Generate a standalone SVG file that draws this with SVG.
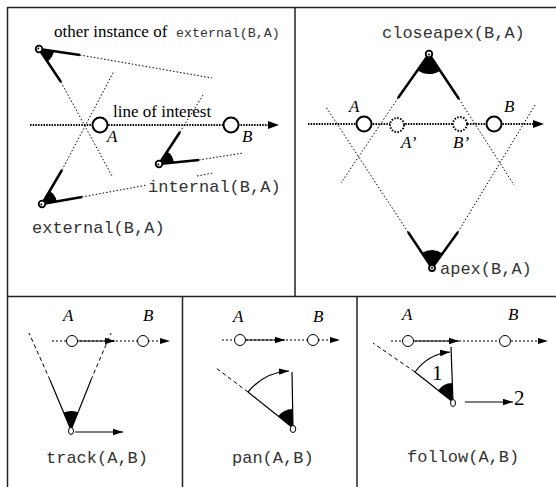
<svg xmlns="http://www.w3.org/2000/svg" width="556" height="487" viewBox="0 0 556 487">
<defs>
<style>
.frame{fill:none;stroke:#222;stroke-width:1.5}
.loi{fill:none;stroke:#000;stroke-width:2;stroke-dasharray:1.5 1.2}
.dot{fill:none;stroke:#000;stroke-width:1;stroke-dasharray:1.5 2}
.thick{fill:none;stroke:#000;stroke-width:2.5}
.thin{fill:none;stroke:#000;stroke-width:1.2}
.dash{fill:none;stroke:#000;stroke-width:1;stroke-dasharray:4 3}
.dot2{fill:none;stroke:#000;stroke-width:1;stroke-dasharray:2 2}
.circ{fill:#fff;stroke:#000;stroke-width:2}
.circd{fill:#fff;stroke:#000;stroke-width:2;stroke-dasharray:1.5 1.5}
.circs{fill:#fff;stroke:#000;stroke-width:1}
.wedge{fill:#000}
.cam{fill:#fff;stroke:#000;stroke-width:1.8}
.camc{fill:#000}
.serif{font-family:"Liberation Serif","Times New Roman",serif;font-size:17px;fill:#000}
.it{font-family:"Liberation Serif","Times New Roman",serif;font-style:italic;font-size:17px;fill:#000}
.mono{font-family:"Liberation Mono","Courier New",monospace;font-size:17px;fill:#333}
.num{font-family:"Liberation Serif","Times New Roman",serif;font-size:21px;fill:#000}
</style>
<marker id="ah" markerWidth="11" markerHeight="8" refX="10" refY="4" orient="auto" markerUnits="userSpaceOnUse">
<path d="M0,0.8 L10,4 L0,7.2 Z" fill="#000"/>
</marker>
</defs>

<g id="frames">
<line class="frame" x1="7" y1="7.5" x2="556" y2="7.5"/>
<line class="frame" x1="7.5" y1="7" x2="7.5" y2="487"/>
<line class="frame" x1="295" y1="7" x2="295" y2="297"/>
<line class="frame" x1="7" y1="296.5" x2="556" y2="296.5"/>
<line class="frame" x1="182.5" y1="296" x2="182.5" y2="487"/>
<line class="frame" x1="357" y1="296" x2="357" y2="487"/>
</g>

<g id="connectors">
<!-- top-left panel -->
<line class="loi" x1="30" y1="125" x2="269" y2="125"/>
<polygon points="268,121 279,125 268,129" fill="#000"/>
<line class="dot" x1="80" y1="55" x2="212" y2="78"/>
<line class="dot" x1="61" y1="82" x2="112" y2="176"/>
<line class="dot" x1="62" y1="170" x2="114" y2="71"/>
<line class="dot" x1="82" y1="197" x2="147" y2="185"/>
<line class="dot" x1="197" y1="176" x2="213" y2="173"/>
<line class="dot" x1="199" y1="160" x2="243" y2="153"/>
<line class="dot" x1="180" y1="132" x2="203" y2="95"/>
<line class="thick" x1="39" y1="49" x2="80" y2="55"/>
<line class="thick" x1="39" y1="49" x2="61" y2="82"/>
<line class="thick" x1="42" y1="204" x2="82" y2="197"/>
<line class="thick" x1="42" y1="204" x2="62" y2="170"/>
<line class="thick" x1="159" y1="164" x2="199" y2="160"/>
<line class="thick" x1="159" y1="164" x2="180" y2="132"/>

<!-- top-right panel -->
<line class="loi" x1="308" y1="124" x2="534" y2="124"/>
<polygon points="533,120 544,124 533,128" fill="#000"/>
<line class="dot" x1="398" y1="98" x2="341" y2="183"/>
<line class="dot" x1="459" y1="99" x2="514" y2="185"/>
<line class="dot" x1="408" y1="232" x2="326" y2="107"/>
<line class="dot" x1="458" y1="232" x2="535" y2="105"/>
<line class="thick" x1="429" y1="54" x2="398" y2="98"/>
<line class="thick" x1="429" y1="54" x2="459" y2="99"/>
<line class="thick" x1="432" y1="268" x2="408" y2="232"/>
<line class="thick" x1="432" y1="268" x2="458" y2="232"/>

<!-- track panel -->
<line class="dot2" x1="52" y1="341" x2="162" y2="341"/>
<polygon points="160,338 170,341 160,344" fill="#000"/>
<line class="thin" x1="78" y1="341" x2="115" y2="341" marker-end="url(#ah)"/>
<line class="thin" x1="71" y1="430" x2="50" y2="380"/>
<line class="dash" x1="50" y1="380" x2="29" y2="333"/>
<line class="thin" x1="71" y1="430" x2="91" y2="380"/>
<line class="dash" x1="91" y1="380" x2="111" y2="333"/>
<line class="thin" x1="75" y1="432" x2="123" y2="432" marker-end="url(#ah)"/>

<!-- pan panel -->
<line class="dot2" x1="222" y1="340" x2="332" y2="340"/>
<polygon points="330,337 340,340 330,343" fill="#000"/>
<line class="thin" x1="246" y1="340" x2="285" y2="340" marker-end="url(#ah)"/>
<line class="thin" x1="293" y1="428" x2="292" y2="372"/>
<line class="thin" x1="293" y1="428" x2="248" y2="392"/>
<line class="dash" x1="248" y1="392" x2="216" y2="368"/>
<path class="thin" d="M248,392 A57,57 0 0 1 289,371" marker-end="url(#ah)"/>

<!-- follow panel -->
<line class="dot2" x1="391" y1="341" x2="540" y2="341"/>
<polygon points="538,338 548,341 538,344" fill="#000"/>
<line class="thin" x1="414" y1="341" x2="459" y2="341" marker-end="url(#ah)"/>
<line class="thin" x1="453" y1="402" x2="451" y2="347"/>
<line class="thin" x1="453" y1="402" x2="415" y2="372"/>
<line class="dash" x1="415" y1="372" x2="373" y2="343"/>
<path class="thin" d="M415,372 A49,49 0 0 1 450,352" marker-end="url(#ah)"/>
<line class="thin" x1="465" y1="402" x2="513" y2="402" marker-end="url(#ah)"/>
</g>

<g id="node-A-top-left">
<circle class="circ" cx="100" cy="125" r="7.5"/>
<text class="it" x="107" y="142">A</text>
</g>
<g id="node-B-top-left">
<circle class="circ" cx="231" cy="125" r="7.5"/>
<text class="it" x="242" y="142">B</text>
</g>
<g id="label-line-of-interest">
<text class="serif" x="113" y="117">line of interest</text>
</g>
<g id="camera-other-instance">
<path class="wedge" d="M39,49 L53.85,51.18 A15,15 0 0 1 47.31,61.48 Z"/>
<circle class="cam" cx="39" cy="49" r="3.3"/>
<circle class="camc" cx="38.3" cy="48.5" r="1"/>
<text class="serif" x="54" y="37">other instance of <tspan class="mono" style="font-size:13.3px" x="176">external(B,A)</tspan></text>
</g>
<g id="camera-external">
<path class="wedge" d="M42,204 L56.78,201.42 A15,15 0 0 0 49.61,191.07 Z"/>
<circle class="cam" cx="42" cy="204" r="3.3"/>
<circle class="camc" cx="41.3" cy="204.5" r="1"/>
<text class="mono" x="32" y="233">external(B,A)</text>
</g>
<g id="camera-internal">
<path class="wedge" d="M159,164 L173.93,162.51 A15,15 0 0 0 167.22,151.46 Z"/>
<circle class="cam" cx="159" cy="164" r="3.3"/>
<circle class="camc" cx="158.3" cy="164.5" r="1"/>
<text class="mono" x="148" y="192">internal(B,A)</text>
</g>

<g id="node-A-top-right">
<circle class="circ" cx="364" cy="124" r="7.5"/>
<text class="it" x="349" y="112">A</text>
</g>
<g id="node-Aprime">
<circle class="circd" cx="397" cy="125" r="7"/>
<text class="it" x="401" y="148">A’</text>
</g>
<g id="node-Bprime">
<circle class="circd" cx="460" cy="124" r="7"/>
<text class="it" x="453" y="148">B’</text>
</g>
<g id="node-B-top-right">
<circle class="circ" cx="494" cy="124" r="7.5"/>
<text class="it" x="504" y="112">B</text>
</g>
<g id="camera-closeapex">
<path class="wedge" d="M429,54 L417.48,70.36 A20,20 0 0 0 440.1,70.64 Z"/>
<circle class="cam" cx="429" cy="54" r="3.3"/>
<circle class="camc" cx="429" cy="54.5" r="1"/>
<text class="mono" x="382" y="38">closeapex(B,A)</text>
</g>
<g id="camera-apex">
<path class="wedge" d="M432,268 L422.03,253.02 A18,18 0 0 1 442.55,253.4 Z"/>
<circle class="cam" cx="432" cy="268" r="3"/>
<circle class="camc" cx="432" cy="268" r="1"/>
<text class="mono" x="440" y="274">apex(B,A)</text>
</g>

<g id="track">
<circle class="circs" cx="72" cy="341" r="5.5"/>
<circle class="circs" cx="143" cy="341" r="5.5"/>
<text class="it" x="63" y="321">A</text>
<text class="it" x="143" y="321">B</text>
<path class="wedge" d="M71,430 L63.46,412.56 A19,19 0 0 1 78.24,412.42 Z"/>
<ellipse class="circs" cx="71" cy="431" rx="2.5" ry="3.5"/>
<text class="mono" x="46" y="463">track(A,B)</text>
</g>

<g id="pan">
<circle class="circs" cx="240" cy="340" r="5.5"/>
<circle class="circs" cx="313" cy="340" r="5.5"/>
<text class="it" x="233" y="322">A</text>
<text class="it" x="313" y="322">B</text>
<path class="wedge" d="M293,428 L278.01,416.31 A19,19 0 0 1 292.66,409 Z"/>
<ellipse class="circs" cx="293" cy="429" rx="2.8" ry="3.5"/>
<text class="mono" x="232" y="463">pan(A,B)</text>
</g>

<g id="follow">
<circle class="circs" cx="408" cy="341" r="5.5"/>
<circle class="circs" cx="505" cy="341" r="5.5"/>
<text class="it" x="402" y="320">A</text>
<text class="it" x="508" y="320">B</text>
<path class="wedge" d="M453,402 L437.7,390.71 A19,19 0 0 1 452.32,383.02 Z"/>
<ellipse class="circs" cx="453" cy="403" rx="2.5" ry="3.5"/>
<text class="num" x="432" y="380">1</text>
<text class="num" x="514" y="405">2</text>
<text class="mono" x="407" y="462">follow(A,B)</text>
</g>
</svg>
